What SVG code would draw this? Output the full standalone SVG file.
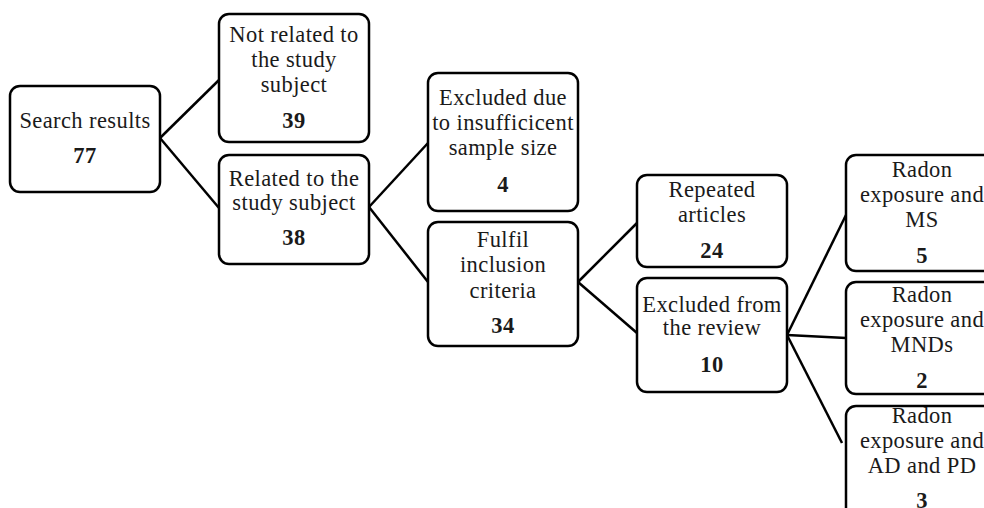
<svg xmlns="http://www.w3.org/2000/svg" width="984" height="508" viewBox="0 0 984 508">
<style>
.box{fill:#fff;stroke:#000;stroke-width:2.5}
.t{font-family:'Liberation Serif',Tinos,'DejaVu Serif',serif;font-size:22.5px;letter-spacing:0.4px;fill:#1a1a1a;text-anchor:middle}
.n{font-weight:bold}
.c{stroke:#000;stroke-width:2.5;fill:none}
</style>
<rect width="984" height="508" fill="#fff"/>
<g id="connectors">
<line class="c" x1="160" y1="138" x2="219" y2="80"/>
<line class="c" x1="160" y1="138" x2="219" y2="208"/>
<line class="c" x1="369" y1="207" x2="428" y2="143"/>
<line class="c" x1="369" y1="207" x2="428" y2="282"/>
<line class="c" x1="578" y1="282" x2="637" y2="223"/>
<line class="c" x1="578" y1="282" x2="637" y2="333"/>
<line class="c" x1="787" y1="335" x2="846" y2="215"/>
<line class="c" x1="787" y1="335" x2="846" y2="338"/>
<line class="c" x1="787" y1="335" x2="842" y2="443"/>
</g>
<g id="search">
<rect class="box" x="10" y="86" width="150" height="106" rx="10"/>
<text class="t" x="85" y="128">Search results</text>
<text class="t n" x="85" y="163">77</text>
</g>
<g id="notrelated">
<rect class="box" x="219" y="14" width="150" height="128" rx="10"/>
<text class="t" x="294" y="42">Not related to</text>
<text class="t" x="294" y="67">the study</text>
<text class="t" x="294" y="92">subject</text>
<text class="t n" x="294" y="128">39</text>
</g>
<g id="related">
<rect class="box" x="219" y="155" width="150" height="109" rx="10"/>
<text class="t" x="294" y="186">Related to the</text>
<text class="t" x="294" y="210">study subject</text>
<text class="t n" x="294" y="245">38</text>
</g>
<g id="insufficient">
<rect class="box" x="428" y="73" width="150" height="138" rx="10"/>
<text class="t" x="503" y="105">Excluded due</text>
<text class="t" x="503" y="130">to insufficicent</text>
<text class="t" x="503" y="155">sample size</text>
<text class="t n" x="503" y="192">4</text>
</g>
<g id="fulfil">
<rect class="box" x="428" y="222" width="150" height="124" rx="10"/>
<text class="t" x="503" y="247">Fulfil</text>
<text class="t" x="503" y="272">inclusion</text>
<text class="t" x="503" y="298">criteria</text>
<text class="t n" x="503" y="333">34</text>
</g>
<g id="repeated">
<rect class="box" x="637" y="175" width="150" height="92" rx="10"/>
<text class="t" x="712" y="197">Repeated</text>
<text class="t" x="712" y="222">articles</text>
<text class="t n" x="712" y="258">24</text>
</g>
<g id="excluded">
<rect class="box" x="637" y="278" width="150" height="114" rx="10"/>
<text class="t" x="712" y="312">Excluded from</text>
<text class="t" x="712" y="335">the review</text>
<text class="t n" x="712" y="372">10</text>
</g>
<g id="ms">
<rect class="box" x="846" y="155" width="150" height="116" rx="10"/>
<text class="t" x="922" y="177">Radon</text>
<text class="t" x="922" y="202">exposure and</text>
<text class="t" x="922" y="227">MS</text>
<text class="t n" x="922" y="263">5</text>
</g>
<g id="mnds">
<rect class="box" x="846" y="282" width="150" height="112" rx="10"/>
<text class="t" x="922" y="302">Radon</text>
<text class="t" x="922" y="327">exposure and</text>
<text class="t" x="922" y="352">MNDs</text>
<text class="t n" x="922" y="388">2</text>
</g>
<g id="adpd">
<rect class="box" x="846" y="406" width="150" height="120" rx="10"/>
<text class="t" x="922" y="423">Radon</text>
<text class="t" x="922" y="448">exposure and</text>
<text class="t" x="922" y="473">AD and PD</text>
<text class="t n" x="922" y="508">3</text>
</g>
</svg>
